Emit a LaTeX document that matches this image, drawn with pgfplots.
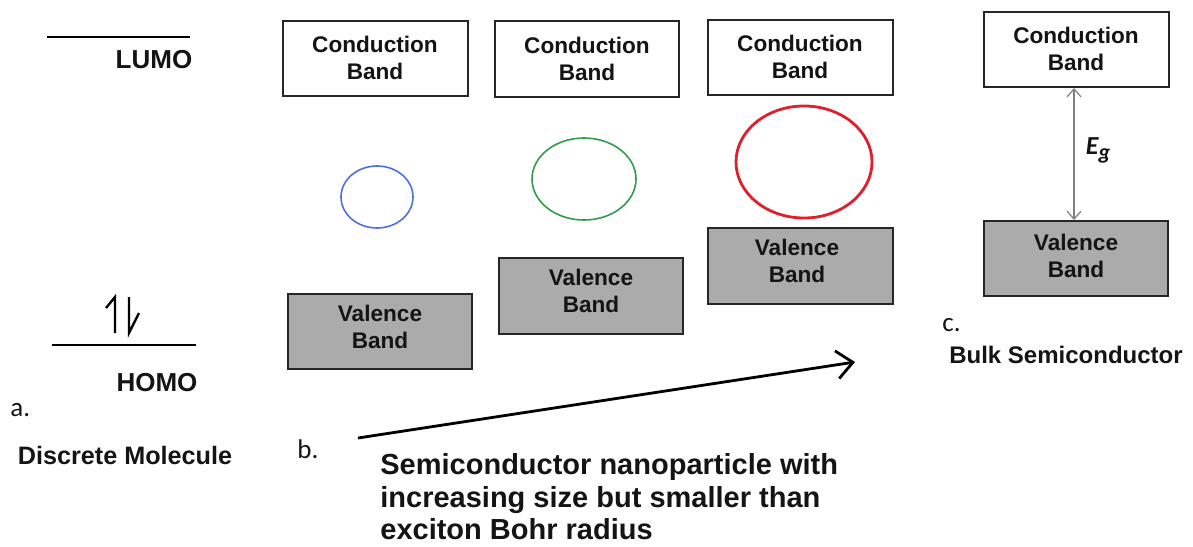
\documentclass[border=0pt]{standalone}
\usepackage{pgfplots}
\pgfplotsset{compat=1.18}
\usetikzlibrary{arrows.meta}
\usepackage{fontspec}
\setmainfont{Liberation Sans}
\newfontfamily\cali{Carlito}
\definecolor{vgray}{HTML}{ABABAB}
\definecolor{eblue}{HTML}{4F6EE0}
\definecolor{egreen}{HTML}{2E9E48}
\definecolor{ered}{HTML}{E01E2C}
\definecolor{txt}{HTML}{141414}
\begin{document}
\begin{tikzpicture}
\begin{axis}[
  scale only axis, width=596.5pt, height=273pt,
  xmin=0, xmax=1193, ymin=0, ymax=546, y dir=reverse,
  hide axis, clip=false,
]
% conduction bands
\addplot[draw=black!85, fill=white, line width=1.1pt] coordinates {(283,21) (468,21) (468,96) (283,96)} -- cycle;
\addplot[draw=black!85, fill=white, line width=1.1pt] coordinates {(495,21) (679,21) (679,97) (495,97)} -- cycle;
\addplot[draw=black!85, fill=white, line width=1.1pt] coordinates {(708,20) (893,20) (893,95) (708,95)} -- cycle;
\addplot[draw=black!85, fill=white, line width=1.1pt] coordinates {(984,12) (1169,12) (1169,87) (984,87)} -- cycle;
% valence bands
\addplot[draw=black!85, fill=vgray, line width=1.1pt] coordinates {(288,294) (472,294) (472,369) (288,369)} -- cycle;
\addplot[draw=black!85, fill=vgray, line width=1.1pt] coordinates {(499,258) (683,258) (683,334) (499,334)} -- cycle;
\addplot[draw=black!85, fill=vgray, line width=1.1pt] coordinates {(708,228) (893,228) (893,304) (708,304)} -- cycle;
\addplot[draw=black!85, fill=vgray, line width=1.1pt] coordinates {(984,221) (1168,221) (1168,296) (984,296)} -- cycle;
% LUMO / HOMO lines
\addplot[black, line width=1pt] coordinates {(47,37) (190,37)};
\addplot[black, line width=1pt] coordinates {(52,345) (196,345)};
% electron harpoons
\addplot[black, line width=1.2pt] coordinates {(106,308) (115,297) (115,333)};
\addplot[black, line width=1.2pt] coordinates {(129,297) (129,333) (139,313)};
% excitons
\draw[eblue, line width=0.8pt] (axis cs:377,197) ellipse [x radius=36, y radius=31];
\draw[egreen, line width=0.8pt] (axis cs:584,179) ellipse [x radius=52, y radius=41];
\draw[ered, line width=1.4pt] (axis cs:804,162) ellipse [x radius=68, y radius=56];
% Eg arrow
\addplot[gray, line width=0.6pt, {Straight Barb[length=4pt,width=7pt]}-{Straight Barb[length=4pt,width=7pt]}] coordinates {(1074,88) (1074,220)};
% big arrow
\addplot[black, line width=1.4pt, -{Straight Barb[length=8pt,width=14pt,line width=1.4pt]}] coordinates {(358,438) (855,362)};
% texts
\tikzset{bt/.style={font=\bfseries\fontsize{11.3}{13.5}\selectfont, align=center, text=txt}}
\node[bt] at (axis cs:375,58) {Conduction\\Band};
\node[bt] at (axis cs:587,59) {Conduction\\Band};
\node[bt] at (axis cs:800,57) {Conduction\\Band};
\node[bt] at (axis cs:1076,49) {Conduction\\Band};
\node[bt] at (axis cs:380,327) {Valence\\Band};
\node[bt] at (axis cs:591,291) {Valence\\Band};
\node[bt] at (axis cs:797,261) {Valence\\Band};
\node[bt] at (axis cs:1076,256) {Valence\\Band};
\node[text=txt, font=\bfseries\fontsize{13}{15}\selectfont] at (axis cs:154,60) {LUMO};
\node[text=txt, font=\bfseries\fontsize{13}{15}\selectfont] at (axis cs:157,383) {HOMO};
\node[text=txt, font=\cali\fontsize{13.5}{15}\selectfont, anchor=west, inner sep=0pt] at (axis cs:10,410) {a.};
\node[text=txt, font=\bfseries\fontsize{12.6}{15}\selectfont] at (axis cs:125,455) {Discrete Molecule};
\node[text=txt, font=\cali\fontsize{13.5}{15}\selectfont, anchor=west, inner sep=0pt] at (axis cs:297,449) {b.};
\node[text=txt, font=\cali\fontsize{13.5}{15}\selectfont, anchor=west, inner sep=0pt] at (axis cs:942,325) {c.};
\node[text=txt, font=\bfseries\fontsize{12}{15}\selectfont] at (axis cs:1066,355) {Bulk Semiconductor};
\node[text=txt, font=\bfseries\fontsize{14.5}{16.3}\selectfont, align=left, anchor=west, inner sep=0pt] at (axis cs:380,497) {Semiconductor nanoparticle with\\increasing size but smaller than\\exciton Bohr radius};
\node[text=txt, font=\cali\bfseries\itshape\fontsize{13}{15}\selectfont] at (axis cs:1098,150) {E\raisebox{-2.5pt}{\fontsize{11}{12}\selectfont g}};
\end{axis}
\pgfresetboundingbox
\path (0,0) rectangle (596.5pt,273pt);
\end{tikzpicture}
\end{document}
